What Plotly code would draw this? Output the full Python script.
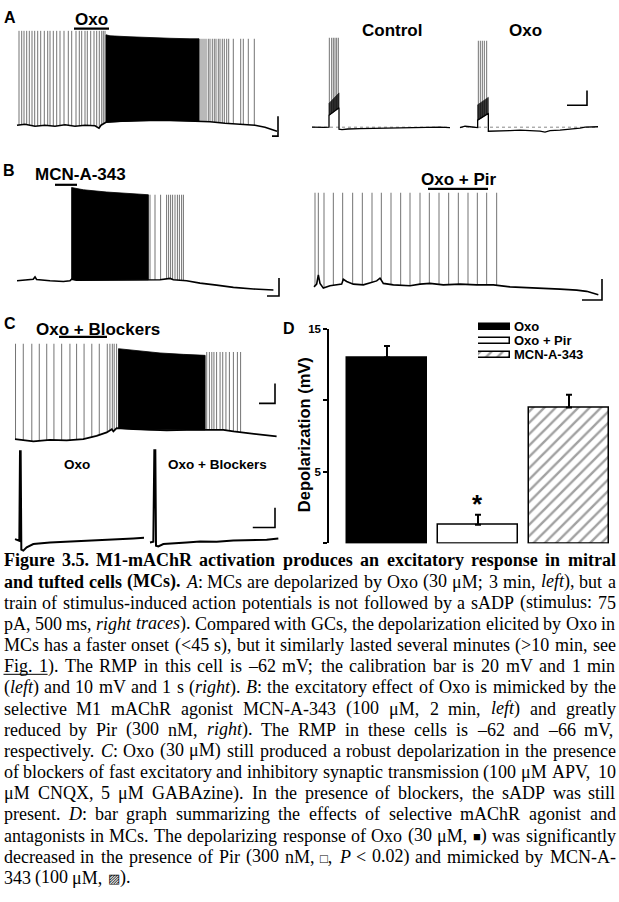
import numpy as np
import plotly.graph_objects as go

W, H = 619, 902

# ===================== DATA =====================
# Panel D: bar graph (depolarization, mV)
d_groups = ["Oxo", "Oxo + Pir", "MCN-A-343"]
d_mean_mv = [13.0, 1.3, 9.5]
d_sem_mv = [0.8, 0.7, 0.9]
d_ticks = [0, 5, 10, 15]
d_tick_labels = ["", "5", "", "15"]

# Panel A left: Oxo, slow recording (time s, Vm mV)
a_base_t = [0, 80, 180, 280, 380, 480, 580, 680, 780, 820, 840, 890, 1030, 1230, 1430, 1630, 1800, 1930, 2080, 2230, 2380, 2480, 2550, 2600]
a_base_v = [-62, -61, -63, -62, -63, -61.5, -63, -62, -62.5, -65, -62, -59, -58, -57.5, -57, -57.5, -58, -58.5, -60, -61, -62, -64, -66, -68]
a_spk1_t = [20, 47, 70, 97, 123, 150, 177, 207, 237, 273, 307, 330, 363, 397, 430, 470, 513, 547, 590, 623, 647, 680, 703, 737, 770, 797, 823, 847, 863, 880]
a_spk1_peak = 33
a_burst_t = [890, 930, 1130, 1330, 1530, 1730, 1820]
a_burst_top = [29, 28, 27, 26, 25.5, 25, 25]
a_spk2_t = [1830, 1850, 1870, 1890, 1913, 1930, 1953, 1973, 1990, 2013, 2030, 2053, 2073, 2097, 2117, 2163, 2237, 2263, 2313, 2373]
a_spk2_peak = 25
a_drug_t = [570, 920]
a_drug_v = 35.3

# Panel A right: stimulus-evoked trains (time ms, Vm mV)
ar_ctrl_t = [0, 300, 600, 850, 850, 1350, 1350, 1500, 1800, 2400, 3400, 4400, 5400, 6400, 6900]
ar_ctrl_v = [-62, -61.8, -62.1, -62, -54, -49, -63.3, -63.6, -63.2, -63, -62.7, -62.6, -62.3, -62, -62.3]
ar_ctrl_env_t = [850, 1350]
ar_ctrl_env_lo = [-54, -49]
ar_ctrl_env_hi = [-46, -39]
ar_ctrl_spk_t = [867, 983, 1067, 1150, 1233, 1317]
ar_ctrl_spk_peak = -2
ar_oxo_t = [0, 250, 500, 750, 883, 883, 1417, 1417, 1750, 2500, 3000, 3500, 4000, 4250, 4500, 5000, 5750, 6000, 6250, 6500, 6900]
ar_oxo_v = [-62.3, -61.3, -61.7, -62.3, -62.3, -57.3, -52.7, -64.7, -64.7, -64.3, -64, -64.3, -64.7, -65.3, -64.3, -64, -63.3, -62.7, -62, -61.7, -61.7]
ar_oxo_env_t = [883, 1417]
ar_oxo_env_lo = [-57.3, -52.7]
ar_oxo_env_hi = [-47, -42]
ar_oxo_spk_t = [917, 1017, 1117, 1217, 1333]
ar_oxo_spk_peak = -4
ar_rmp = -62

# Panel B left: MCN-A-343 (time s, Vm mV)
bl_base_t = [0, 48, 81, 90, 98, 165, 232, 265, 273, 298, 415, 582, 657, 715, 765, 782, 848, 915, 998, 1082, 1182, 1282]
bl_base_v = [-61.6, -60.5, -59.8, -57.3, -60.1, -61.6, -62.3, -61.6, -59.8, -60.9, -60.9, -60.5, -60.5, -60.5, -59, -60.5, -61.6, -64.2, -66.4, -68.9, -70.7, -71.8]
bl_burst_t = [273, 332, 448, 582, 657]
bl_burst_top = [41.7, 39.2, 36.7, 34.5, 33.7]
bl_spk_t = [665, 690, 718, 748, 758, 768, 778, 790, 802, 812, 823, 832]
bl_spk_peak = 33.7
bl_drug_t = [190, 300]
bl_drug_v = 44.7

# Panel B right: Oxo + Pir (time s, Vm mV)
br_base_t = [0, 8, 13, 18, 28, 48, 83, 88, 98, 118, 148, 173, 188, 198, 208, 238, 288, 318, 348, 388, 438, 488, 538, 588, 638, 688, 738, 788, 818, 838, 853]
br_base_v = [-66.7, -64.1, -55.3, -63.4, -67.9, -65.7, -64.1, -59.4, -61.5, -64.1, -64.8, -62.5, -61, -58.4, -63.4, -64.8, -65.7, -64.1, -63.4, -64.8, -64.1, -64.8, -64.8, -66.7, -67.2, -67.9, -68.9, -69.8, -71, -72.9, -74.3]
br_spk_t = [3, 13, 30, 58, 86, 116, 145, 174, 202, 231, 260, 288, 318, 346, 375, 404, 433, 462, 490, 518, 548]
br_spk_peak = 23.3
br_drug_t = [342, 522]
br_drug_v = 27.1

# Panel C top: Oxo + blockers (time s, Vm mV)
ct_base_t = [0, 44, 69, 131, 194, 256, 306, 344, 363, 369, 381, 444, 506, 569, 644, 713, 744, 781, 819, 881, 931, 981]
ct_base_v = [-62, -63.7, -64.3, -62.7, -63.3, -62, -58.7, -55.3, -52, -54.3, -51, -52, -52.7, -53.3, -52.7, -52.7, -52, -52.7, -54.3, -56, -57.7, -59.3]
ct_spk1_t = [2, 31, 63, 91, 119, 146, 175, 206, 231, 259, 288, 316, 346, 356, 365, 372, 381]
ct_spk1_peak = 34
ct_burst_t = [388, 444, 544, 631, 713]
ct_burst_top = [29, 27.3, 24.7, 23.3, 22.3]
ct_spk2_t = [719, 729, 738, 746, 756, 769, 779, 791, 804, 819, 834, 846]
ct_spk2_peak = 25.7
ct_drug_t = [165, 345]
ct_drug_v = 41

# Panel C bottom: sADP traces (time ms, Vm mV)
c1_t = [0, 195, 225, 255, 285, 375, 525, 825, 1575, 2325, 3075, 3825, 4575, 5325, 5805]
c1_v = [-61.85, -62.65, -17.65, -17.65, -67.15, -67.65, -66, -64.35, -63.5, -63.15, -62.65, -62.35, -62.15, -61.5, -61.15]
c2_t = [0, 150, 195, 240, 270, 375, 600, 1050, 1650, 2250, 3000, 3750, 4500, 5250, 5775]
c2_v = [-63.5, -63.15, -17.15, -17.15, -65.15, -65.5, -64.35, -63.85, -63.5, -63, -63.15, -62.5, -62.35, -62.15, -61.5]

# Calibration bars: (corner time, corner Vm, time length, mV length)
cal_a_left = (2610, -73, 60, 20)
cal_a_right = (6350, -47.3, 1000, 10)
cal_b_left = (1310, -78.5, 60, 20)
cal_b_right = (864, -79.3, 60, 20)
cal_c_top = (975, -26, 60, 20)
cal_c_bottom = (5625, -56, 1000, 10)

CAPTION_LINES = [
    "[b]Figure 3.5. M1-mAChR activation produces an excitatory response in mitral[/b]",
    "[b]and tufted cells (MCs).[/b] [i]A[/i]: MCs are depolarized by Oxo (30 μM; 3 min, [i]left[/i]), but a",
    "train of stimulus-induced action potentials is not followed by a sADP (stimulus: 75",
    "pA, 500 ms, [i]right traces[/i]). Compared with GCs, the depolarization elicited by Oxo in",
    "MCs has a faster onset (<45 s), but it similarly lasted several minutes (>10 min, see",
    "[u]Fig. 1[/u]). The RMP in this cell is –62 mV; the calibration bar is 20 mV and 1 min",
    "([i]left[/i]) and 10 mV and 1 s ([i]right[/i]). [i]B[/i]: the excitatory effect of Oxo is mimicked by the",
    "selective M1 mAChR agonist MCN-A-343 (100 μM, 2 min, [i]left[/i]) and greatly",
    "reduced by Pir (300 nM, [i]right[/i]). The RMP in these cells is –62 and –66 mV,",
    "respectively. [i]C[/i]: Oxo (30 μM) still produced a robust depolarization in the presence",
    "of blockers of fast excitatory and inhibitory synaptic transmission (100 μM APV, 10",
    "μM CNQX, 5 μM GABAzine). In the presence of blockers, the sADP was still",
    "present. [i]D[/i]: bar graph summarizing the effects of selective mAChR agonist and",
    "antagonists in MCs. The depolarizing response of Oxo (30 μM, ■) was significantly",
    "decreased in the presence of Pir (300 nM, □, [i]P[/i] < 0.02) and mimicked by MCN-A-",
    "343 (100 μM, ▨).",
]

# ===================== FIGURE =====================
SANS = "Liberation Sans, Arial, sans-serif"
SERIF = "Liberation Serif, Times New Roman, serif"
SPIKE = "rgba(0,0,0,0.55)"
TRACE_W = 1.6

fig = go.Figure()


def dom_x(a, b):
    return [a / W, b / W]


def dom_y(a, b):
    return [1 - b / H, 1 - a / H]


def px(x):
    return x / W


def py(y):
    return 1 - y / H


PANELS = {
    2: ((15, 285, 15, 140), (-20, 2680), (-82, 43)),
    3: ((305, 455, 15, 140), (-350, 7150), (-74, 9.33)),
    4: ((458, 605, 15, 140), (-100, 7250), (-74, 9.33)),
    5: ((10, 285, 160, 300), (-35, 1340), (-87.3, 66.7)),
    6: ((310, 610, 160, 300), (-12, 888), (-83.1, 49.9)),
    7: ((10, 285, 310, 445), (-18.75, 1012.5), (-71, 64)),
    8: ((10, 147, 440, 555), (-225, 5940), (-71, -13.5)),
    9: ((148, 285, 440, 555), (-90, 6075), (-71, -13.5)),
}
axes = {}
for n, (box, xr, yr) in PANELS.items():
    axes[f"xaxis{n}"] = dict(domain=dom_x(box[0], box[1]), range=list(xr), visible=False,
                             anchor=f"y{n}", fixedrange=True)
    axes[f"yaxis{n}"] = dict(domain=dom_y(box[2], box[3]), range=list(yr), visible=False,
                             anchor=f"x{n}", fixedrange=True)
fig.update_layout(**axes)


def add_line(n, t, v, color="black", width=TRACE_W, dash=None):
    fig.add_trace(go.Scatter(x=list(t), y=list(v), xaxis=f"x{n}", yaxis=f"y{n}", mode="lines",
                             line=dict(color=color, width=width, dash=dash),
                             hoverinfo="skip", showlegend=False))


def add_fill(n, t, v, color):
    fig.add_trace(go.Scatter(x=list(t), y=list(v), xaxis=f"x{n}", yaxis=f"y{n}", mode="lines",
                             fill="toself", fillcolor=color, line=dict(color=color, width=0.8),
                             hoverinfo="skip", showlegend=False))


def add_spikes(n, times, peak, bt, bv, color=SPIKE, width=1.0):
    xs, ys = [], []
    for t in times:
        xs += [t, t, None]
        ys += [float(np.interp(t, bt, bv)), peak, None]
    add_line(n, xs, ys, color, width)


def add_burst(n, tt, top, bt, bv):
    inner = [t for t in bt if tt[0] < t < tt[-1]]
    bot_t = [tt[0]] + inner + [tt[-1]]
    bot_v = [float(np.interp(t, bt, bv)) for t in bot_t]
    xs = list(tt) + bot_t[::-1]
    ys = list(top) + bot_v[::-1]
    add_fill(n, xs + [xs[0]], ys + [ys[0]], "black")


def add_env(n, tt, lo, hi, color="#3a3a3a"):
    xs = list(tt) + list(tt)[::-1]
    ys = list(lo) + list(hi)[::-1]
    add_fill(n, xs + [xs[0]], ys + [ys[0]], color)


def add_drug(n, tt, level):
    fig.add_shape(type="line", xref=f"x{n}", yref=f"y{n}", x0=tt[0], x1=tt[1], y0=level, y1=level,
                  line=dict(color="black", width=2.2))


def add_cal(n, cal):
    tc, vc, dt, dv = cal
    add_line(n, [tc - dt, tc, tc], [vc, vc, vc + dv], width=1.6)


def label(x, y, text, size, anchor="center", angle=0, family=SANS):
    fig.add_annotation(x=px(x), y=py(y), xref="paper", yref="paper", text=text, showarrow=False,
                       xanchor=anchor, yanchor="middle", textangle=angle,
                       font=dict(family=family, size=size, color="black"),
                       borderpad=0, borderwidth=0)


# ---- Panel A left
add_spikes(2, a_spk1_t, a_spk1_peak, a_base_t, a_base_v)
add_spikes(2, a_spk2_t, a_spk2_peak, a_base_t, a_base_v)
add_burst(2, a_burst_t, a_burst_top, a_base_t, a_base_v)
add_line(2, a_base_t, a_base_v)
add_drug(2, a_drug_t, a_drug_v)
add_cal(2, cal_a_left)

# ---- Panel A right
add_line(3, [ar_ctrl_t[0], ar_ctrl_t[-1]], [ar_rmp, ar_rmp], color="#888", width=1, dash="dot")
add_env(3, ar_ctrl_env_t, ar_ctrl_env_lo, ar_ctrl_env_hi)
add_spikes(3, ar_ctrl_spk_t, ar_ctrl_spk_peak, ar_ctrl_t, ar_ctrl_v)
add_line(3, ar_ctrl_t, ar_ctrl_v, width=1.3)
add_line(4, [ar_oxo_t[0], ar_oxo_t[-1]], [ar_rmp, ar_rmp], color="#888", width=1, dash="dot")
add_env(4, ar_oxo_env_t, ar_oxo_env_lo, ar_oxo_env_hi)
add_spikes(4, ar_oxo_spk_t, ar_oxo_spk_peak, ar_oxo_t, ar_oxo_v)
add_line(4, ar_oxo_t, ar_oxo_v, width=1.3)
add_cal(4, cal_a_right)

# ---- Panel B left
add_burst(5, bl_burst_t, bl_burst_top, bl_base_t, bl_base_v)
add_spikes(5, bl_spk_t, bl_spk_peak, bl_base_t, bl_base_v)
add_line(5, bl_base_t, bl_base_v)
add_drug(5, bl_drug_t, bl_drug_v)
add_cal(5, cal_b_left)

# ---- Panel B right
add_spikes(6, br_spk_t, br_spk_peak, br_base_t, br_base_v)
add_line(6, br_base_t, br_base_v)
add_drug(6, br_drug_t, br_drug_v)
add_cal(6, cal_b_right)

# ---- Panel C top
add_spikes(7, ct_spk1_t, ct_spk1_peak, ct_base_t, ct_base_v)
add_spikes(7, ct_spk2_t, ct_spk2_peak, ct_base_t, ct_base_v)
add_burst(7, ct_burst_t, ct_burst_top, ct_base_t, ct_base_v)
add_line(7, ct_base_t, ct_base_v, width=1.8)
add_drug(7, ct_drug_t, ct_drug_v)
add_cal(7, cal_c_top)

# ---- Panel C bottom
add_line(8, c1_t, c1_v, width=2)
add_line(9, c2_t, c2_v, width=2)
add_cal(9, cal_c_bottom)

# ---- Panel D bar chart
bar_marker = dict(color=["black", "white", "white"], line=dict(color="black", width=1.5),
                  pattern=dict(shape=["", "", "/"], fgcolor="black", bgcolor="white", size=8, solidity=0.3))
fig.add_trace(go.Bar(x=[0, 1, 2], y=d_mean_mv, width=0.88, marker=bar_marker,
                     error_y=dict(type="data", symmetric=False, array=d_sem_mv, arrayminus=[0, 0, 0],
                                  color="black", thickness=2, width=3),
                     hoverinfo="skip", showlegend=False, xaxis="x", yaxis="y"))
fig.update_layout(
    xaxis=dict(domain=dom_x(329, 614.5), range=[-0.637, 2.5], visible=False, anchor="y", fixedrange=True),
    yaxis=dict(domain=dom_y(325, 541), range=[0, 15], showline=True, linecolor="black", linewidth=1.5,
               ticks="outside", ticklen=4, tickwidth=1.5, tickcolor="black", tickvals=d_ticks,
               ticktext=[f"<b>{t}</b>" if t else "" for t in d_tick_labels],
               tickfont=dict(family=SANS, size=11.5, color="black"), showgrid=False, zeroline=False,
               anchor="x", fixedrange=True),
)
# legend swatches (horizontal bars on their own small axes)
fig.add_trace(go.Bar(y=[0, 1, 2], x=[1, 1, 1], orientation="h", width=0.42, marker=bar_marker,
                     hoverinfo="skip", showlegend=False, xaxis="x10", yaxis="y10"))
fig.update_layout(
    xaxis10=dict(domain=dom_x(478, 510), range=[0, 1], visible=False, anchor="y10", fixedrange=True),
    yaxis10=dict(domain=dom_y(316, 358), range=[2.5, -0.5], visible=False, anchor="x10", fixedrange=True),
)
for i, g in enumerate(d_groups):
    label(514, 323 + 14 * i, f"<b>{g}</b>", 13, anchor="left")

label(304, 432, "<b>Depolarization (mV)</b>", 16.5, angle=-90)
label(477, 501, "<b>*</b>", 26)

# ---- Panel labels / drug labels
label(10, 12, "<b>A</b>", 16)
label(91, 13.5, "<b>Oxo</b>", 17)
label(391.5, 25, "<b>Control</b>", 17)
label(525, 25, "<b>Oxo</b>", 17)
label(9, 166, "<b>B</b>", 16)
label(80, 170, "<b>MCN-A-343</b>", 17)
label(458, 175, "<b>Oxo + Pir</b>", 17)
label(10, 320, "<b>C</b>", 16)
label(98, 325.5, "<b>Oxo + Blockers</b>", 17)
label(77, 462, "<b>Oxo</b>", 13.5)
label(217, 462, "<b>Oxo + Blockers</b>", 13.5)
label(289, 325, "<b>D</b>", 16)

# ---- Caption (justified, word by word)
ROMAN = {c: 500 for c in "0123456789"}
ROMAN.update({" ": 250, "(": 333, ")": 333, ",": 250, "-": 333, ".": 250, ":": 278, ";": 278, "<": 564, ">": 564,
              "–": 500, "μ": 576,
              "A": 722, "B": 667, "C": 667, "D": 722, "E": 611, "F": 556, "G": 722, "H": 722, "I": 333, "J": 389,
              "K": 722, "L": 611, "M": 889, "N": 722, "O": 722, "P": 556, "Q": 722, "R": 667, "S": 556, "T": 611,
              "U": 722, "V": 722, "W": 944, "X": 722, "Y": 722, "Z": 611,
              "a": 444, "b": 500, "c": 444, "d": 500, "e": 444, "f": 333, "g": 500, "h": 500, "i": 278, "j": 278,
              "k": 500, "l": 278, "m": 778, "n": 500, "o": 500, "p": 500, "q": 500, "r": 333, "s": 389, "t": 278,
              "u": 500, "v": 500, "w": 722, "x": 500, "y": 500, "z": 444})
BOLD = {c: 500 for c in "0123456789"}
BOLD.update({" ": 250, "(": 333, ")": 333, ",": 250, "-": 333, ".": 250, ":": 333,
             "A": 722, "B": 667, "C": 722, "D": 722, "E": 667, "F": 611, "G": 778, "H": 778, "I": 389, "M": 944,
             "N": 722, "O": 778, "P": 611, "R": 722, "S": 556, "T": 667,
             "a": 500, "b": 556, "c": 444, "d": 556, "e": 444, "f": 333, "g": 500, "h": 556, "i": 278, "l": 278,
             "m": 833, "n": 556, "o": 500, "p": 556, "r": 444, "s": 389, "t": 333, "u": 556, "v": 500, "x": 500,
             "y": 500})
ITAL = {"A": 611, "B": 611, "C": 667, "D": 722, "P": 611, "a": 500, "c": 444, "e": 444, "f": 278, "g": 500,
        "h": 500, "i": 278, "l": 278, "r": 389, "s": 389, "t": 278}
SYM = {"■": 0.604, "□": 0.604, "▨": 0.77}
CAP_FS = 18
SYM_FS = 13
CAP_LEFT, CAP_RIGHT = 3.5, 615.5
CAP_BASE0, CAP_STEP = 564.3, 21.3


def parse(line):
    out, st, i = [], set(), 0
    tags = {"[b]": ("b", 1), "[/b]": ("b", 0), "[i]": ("i", 1), "[/i]": ("i", 0), "[u]": ("u", 1), "[/u]": ("u", 0)}
    while i < len(line):
        for tg, (k, on) in tags.items():
            if line.startswith(tg, i):
                if on:
                    st.add(k)
                else:
                    st.discard(k)
                i += len(tg)
                break
        else:
            out.append((line[i], frozenset(st)))
            i += 1
    return out


def cw(ch, st):
    if ch in SYM:
        return SYM[ch] * SYM_FS
    tbl = BOLD if "b" in st else (ITAL if "i" in st else ROMAN)
    return tbl.get(ch, ROMAN.get(ch, 500)) / 1000 * CAP_FS


def esc(c):
    return {"&": "&amp;", "<": "&lt;", ">": "&gt;"}.get(c, c)


def word_html(w):
    runs = []
    for ch, st in w:
        key = ("b" in st, "i" in st, ch in SYM)
        if runs and runs[-1][0] == key:
            runs[-1][1].append(ch)
        else:
            runs.append([key, [ch]])
    html = ""
    for (b, it, sym), chs in runs:
        s = "".join(esc(c) for c in chs)
        if sym:
            s = f'<span style="font-size:{SYM_FS}px">{s}</span>'
        if it:
            s = f"<i>{s}</i>"
        if b:
            s = f"<b>{s}</b>"
        html += s
    return html


for li, line in enumerate(CAPTION_LINES):
    chars = parse(line)
    words, cur = [], []
    for ch, st in chars:
        if ch == " ":
            if cur:
                words.append(cur)
                cur = []
        else:
            cur.append((ch, st))
    if cur:
        words.append(cur)
    widths = [sum(cw(c, s) for c, s in w) for w in words]
    last = li == len(CAPTION_LINES) - 1
    gap = CAP_FS * 0.25 if last else (CAP_RIGHT - CAP_LEFT - sum(widths)) / (len(words) - 1)
    base = CAP_BASE0 + li * CAP_STEP
    x = CAP_LEFT
    ul = []
    for w, wd in zip(words, widths):
        label(x, base - 6.1, word_html(w), CAP_FS, anchor="left", family=SERIF)
        cx = x
        for c, s in w:
            cwid = cw(c, s)
            if "u" in s:
                ul.append((cx, cx + cwid))
            cx += cwid
        x += wd + gap
    if ul:
        fig.add_shape(type="line", xref="paper", yref="paper",
                      x0=px(min(a for a, b in ul)), x1=px(max(b for a, b in ul)),
                      y0=py(base + 2), y1=py(base + 2), line=dict(color="black", width=1))

fig.update_layout(width=W, height=H, autosize=False, margin=dict(l=0, r=0, t=0, b=0),
                  paper_bgcolor="white", plot_bgcolor="rgba(0,0,0,0)",
                  font=dict(family=SANS, color="black"), showlegend=False, bargap=0)

fig.write_html("out.html", config={"displayModeBar": False})
